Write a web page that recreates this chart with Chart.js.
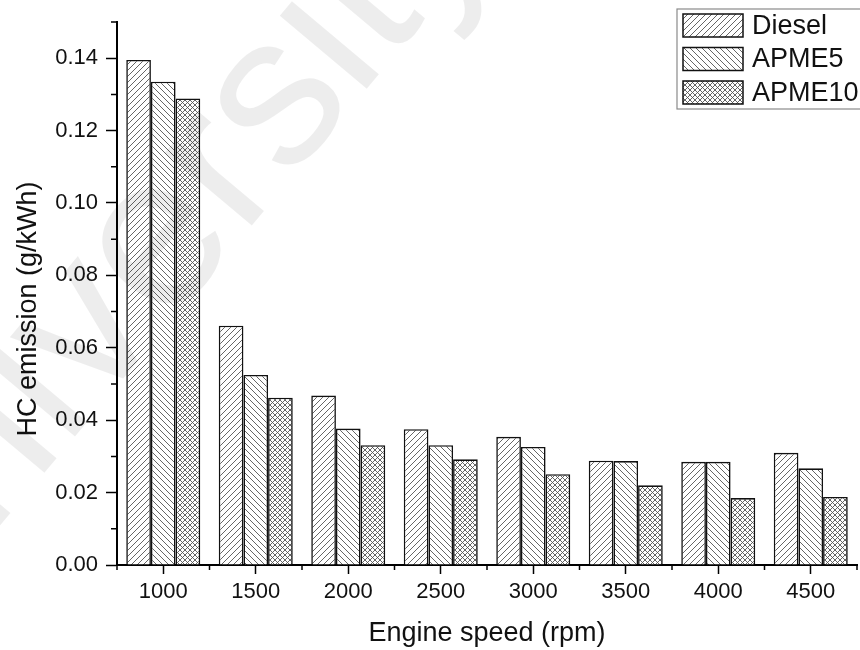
<!DOCTYPE html>
<html>
<head>
<meta charset="utf-8">
<script src="https://cdn.jsdelivr.net/npm/chart.js@4.4.1/dist/chart.umd.min.js"></script>
<style>
  html, body { margin: 0; padding: 0; background: #fff; }
  #wrap { width: 860px; height: 650px; }
</style>
</head>
<body>
<div id="wrap"><canvas id="hcChart" width="860" height="650"></canvas></div>
<script>
// HC emission per engine speed, three fuels
const speeds = ['1000', '1500', '2000', '2500', '3000', '3500', '4000', '4500'];
const diesel = [0.1395, 0.0661, 0.0468, 0.0375, 0.0354, 0.0288, 0.0285, 0.0310];
const apme5  = [0.1335, 0.0525, 0.0377, 0.0331, 0.0326, 0.0287, 0.0285, 0.0267];
const apme10 = [0.1289, 0.0462, 0.0331, 0.0292, 0.0251, 0.0220, 0.0185, 0.0188];
const yMajor = [0, 0.02, 0.04, 0.06, 0.08, 0.10, 0.12, 0.14];
const yMinor = [0.01, 0.03, 0.05, 0.07, 0.09, 0.11, 0.13, 0.15];
const yTitle = 'HC emission (g/kWh)';

const FONT = "'Liberation Sans', Arial, sans-serif";

// small tiled canvases used as hatch fills
function hatch(kind) {
  const s = kind === 'cross' ? 5 : 6;
  const c = document.createElement('canvas');
  c.width = s; c.height = s;
  const g = c.getContext('2d');
  g.fillStyle = '#fff';
  g.fillRect(0, 0, s, s);
  g.strokeStyle = '#555';
  g.lineWidth = 0.9;
  g.beginPath();
  for (let k = -1; k <= 1; k++) {
    if (kind === 'fwd' || kind === 'cross') {
      g.moveTo(k * s, s); g.lineTo(k * s + s, 0);
    }
    if (kind === 'back' || kind === 'cross') {
      g.moveTo(k * s, 0); g.lineTo(k * s + s, s);
    }
  }
  g.stroke();
  return g.createPattern(c, 'repeat');
}

const minorTicks = {
  id: 'minorTicks',
  afterDraw(chart) {
    const { ctx, scales: { x, y } } = chart;
    ctx.save();
    ctx.strokeStyle = '#000';
    ctx.lineWidth = 1.5;
    ctx.beginPath();
    yMinor.forEach(v => {
      const py = y.getPixelForValue(v);
      ctx.moveTo(x.left - 6, py);
      ctx.lineTo(x.left, py);
    });
    const half = (x.getPixelForValue(1) - x.getPixelForValue(0)) / 2;
    for (let i = 0; i <= speeds.length; i++) {
      const px = x.getPixelForValue(i) - half;
      ctx.moveTo(px, y.bottom);
      ctx.lineTo(px, y.bottom + 5);
    }
    ctx.stroke();
    ctx.restore();
  }
};

// vertical axis title, sits a little below the plot's middle
const sideTitle = {
  id: 'sideTitle',
  afterDraw(chart) {
    const ctx = chart.ctx;
    ctx.save();
    ctx.translate(29, 309);
    ctx.rotate(-Math.PI / 2);
    ctx.font = '27px ' + FONT;
    ctx.fillStyle = '#111';
    ctx.textAlign = 'center';
    ctx.textBaseline = 'middle';
    ctx.fillText(yTitle, 0, 0);
    ctx.restore();
  }
};

// boxed legend in the top right corner, runs past the canvas edge
const boxLegend = {
  id: 'boxLegend',
  afterDraw(chart) {
    const ctx = chart.ctx;
    const left = 677, top = 9, rowH = 33.5;
    ctx.save();
    ctx.strokeStyle = '#8a8a8a';
    ctx.lineWidth = 1.2;
    ctx.strokeRect(left, top, 200, 100);
    chart.data.datasets.forEach((ds, i) => {
      const py = top + 5 + i * rowH;
      ctx.fillStyle = ds.backgroundColor;
      ctx.fillRect(683, py, 60, 23);
      ctx.strokeStyle = '#111';
      ctx.lineWidth = 1.5;
      ctx.strokeRect(683, py, 60, 23);
      ctx.fillStyle = '#111';
      ctx.font = '27px ' + FONT;
      ctx.textBaseline = 'middle';
      ctx.fillText(ds.label, 752, py + 12.5);
    });
    ctx.restore();
  }
};

// faint diagonal watermark across the plot
const watermark = {
  id: 'watermark',
  afterDraw(chart) {
    const ctx = chart.ctx;
    ctx.save();
    ctx.translate(-111, 658);
    ctx.rotate(-50 * Math.PI / 180);
    ctx.font = '215px ' + FONT;
    ctx.fillStyle = 'rgba(0,0,0,0.07)';
    ctx.textBaseline = 'alphabetic';
    ctx.fillText('University', 0, 0);
    ctx.restore();
  }
};

new Chart(document.getElementById('hcChart'), {
  type: 'bar',
  data: {
    labels: speeds,
    datasets: [
      { label: 'Diesel', data: diesel, backgroundColor: hatch('fwd') },
      { label: 'APME5', data: apme5, backgroundColor: hatch('back') },
      { label: 'APME10', data: apme10, backgroundColor: hatch('cross') }
    ]
  },
  options: {
    responsive: false,
    animation: false,
    layout: { padding: { top: 22, right: 3, left: 0, bottom: 0 } },
    datasets: {
      bar: {
        borderColor: '#111',
        borderWidth: 1.6,
        categoryPercentage: 0.8,
        barPercentage: 1.0
      }
    },
    plugins: {
      legend: { display: false },
      tooltip: { enabled: false }
    },
    scales: {
      x: {
        offset: true,
        grid: { drawOnChartArea: false, offset: false, tickLength: 9, tickWidth: 1.5, tickColor: '#000' },
        border: { color: '#000', width: 2 },
        ticks: { color: '#111', font: { family: FONT, size: 22 }, padding: 5, maxRotation: 0 },
        title: {
          display: true, text: 'Engine speed (rpm)', color: '#111',
          font: { family: FONT, size: 27 }, padding: { top: 0, bottom: 0 }
        },
        afterFit(scale) { scale.height = 85; }
      },
      y: {
        min: 0,
        max: 0.15,
        afterBuildTicks(scale) { scale.ticks = yMajor.map(v => ({ value: v })); },
        grid: { drawOnChartArea: false, tickLength: 11, tickWidth: 1.5, tickColor: '#000' },
        border: { color: '#000', width: 2 },
        ticks: {
          color: '#111', font: { family: FONT, size: 22 }, padding: 8,
          callback: v => v.toFixed(2)
        },
        afterFit(scale) { scale.width = 117; }
      }
    }
  },
  plugins: [minorTicks, sideTitle, boxLegend, watermark]
});
</script>
</body>
</html>
